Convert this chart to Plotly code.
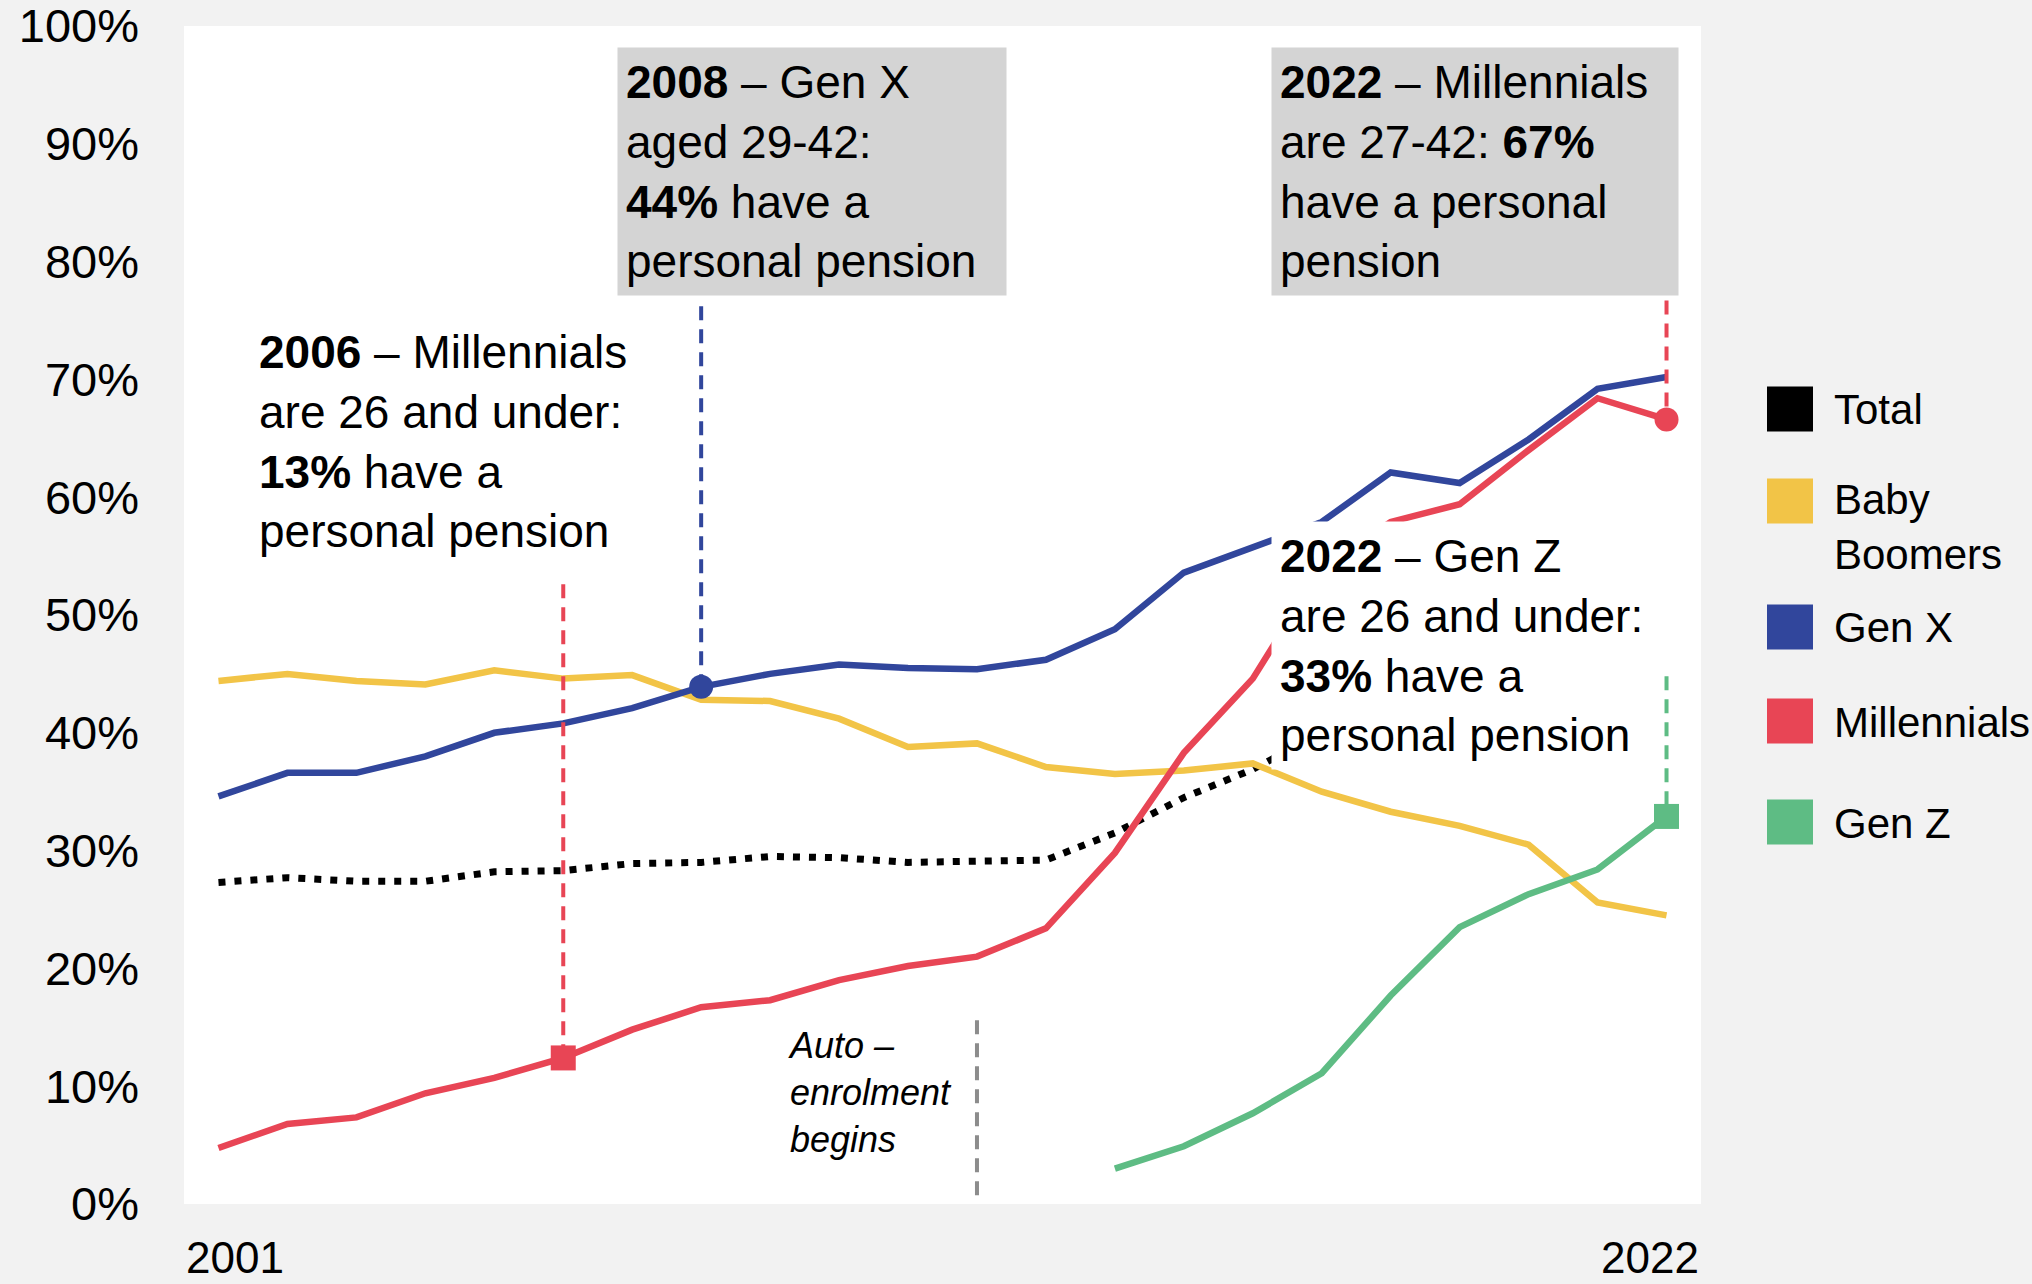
import plotly.graph_objects as go

# Share with a personal pension, by generation (%)
years = list(range(2001, 2023))
total_years = list(range(2001, 2018))
total = [27.3, 27.7, 27.4, 27.4, 28.2, 28.3, 28.9, 29.0, 29.5, 29.4, 29.0, 29.1,
         29.2, 31.5, 34.5, 36.9, 40.0]
baby_boomers = [44.4, 45.0, 44.4, 44.1, 45.3, 44.6, 44.9, 42.8, 42.7, 41.2, 38.8,
                39.1, 37.1, 36.5, 36.8, 37.4, 35.0, 33.3, 32.1, 30.5, 25.6, 24.5]
gen_x = [34.6, 36.6, 36.6, 38.0, 40.0, 40.8, 42.1, 43.9, 45.0, 45.8, 45.5, 45.4,
         46.2, 48.8, 53.6, 55.8, 57.9, 62.1, 61.2, 64.9, 69.2, 70.2]
millennials = [4.75, 6.8, 7.35, 9.4, 10.7, 12.4, 14.8, 16.7, 17.3, 19.0, 20.2, 21.0,
               23.4, 29.8, 38.3, 44.6, 54.0, 57.9, 59.4, 64.0, 68.4, 66.6]
gen_z_years = list(range(2014, 2023))
gen_z = [3.0, 4.9, 7.7, 11.1, 17.7, 23.5, 26.3, 28.4, 32.9]

y_ticks = list(range(0, 101, 10))
legend_names = ['Total', 'Baby<br>Boomers', 'Gen X', 'Millennials', 'Gen Z']

# callout guides: top of each dashed line (%)
callout_tops = {'mill_2006': 52.6, 'genx_2008': 76.2, 'mill_2022': 76.7, 'genz_2022': 44.8}
auto_enrol_year = 2012
auto_enrol_top = 15.6

BLACK = '#000000'
YELLOW = '#F2C447'
BLUE = '#31469C'
RED = '#E84555'
GREEN = '#5EBC84'
GREY = '#8C8C8C'
FONT = 'Liberation Sans, Arial, sans-serif'

# plot area in page pixels
L, R, T, B = 184, 1701, 26, 1204


def px_x(px):
    return (px - L) / (R - L)


def px_y(py):
    return (B - py) / (B - T)


fig = go.Figure()

fig.add_trace(go.Scatter(x=total_years, y=total, mode='lines',
                         line=dict(color=BLACK, width=7, dash='7px,9px')))
fig.add_trace(go.Scatter(x=years, y=baby_boomers, mode='lines',
                         line=dict(color=YELLOW, width=6.5)))
fig.add_trace(go.Scatter(x=years, y=millennials, mode='lines',
                         line=dict(color=RED, width=6.5)))
fig.add_trace(go.Scatter(x=years, y=gen_x, mode='lines',
                         line=dict(color=BLUE, width=6.5)))
fig.add_trace(go.Scatter(x=gen_z_years, y=gen_z, mode='lines',
                         line=dict(color=GREEN, width=6.5)))

# dashed guides down to the highlighted points
i06, i08, i22 = years.index(2006), years.index(2008), years.index(2022)
guides = [
    (2006, callout_tops['mill_2006'], millennials[i06], RED),
    (2008, callout_tops['genx_2008'], gen_x[i08], BLUE),
    (2022, callout_tops['mill_2022'], millennials[i22], RED),
    (2022, callout_tops['genz_2022'], gen_z[-1], GREEN),
    (auto_enrol_year, auto_enrol_top, 0, GREY),
]
for yr, top, bottom, col in guides:
    fig.add_trace(go.Scatter(x=[yr, yr], y=[top, bottom], mode='lines',
                             line=dict(color=col, width=4, dash='14px,9px')))

# highlighted points
fig.add_trace(go.Scatter(x=[2006, 2022], y=[millennials[i06], gen_z[-1]], mode='markers',
                         marker=dict(symbol='square', size=25, color=[RED, GREEN])))
fig.add_trace(go.Scatter(x=[2008, 2022], y=[gen_x[i08], millennials[i22]], mode='markers',
                         marker=dict(symbol='circle', size=24, color=[BLUE, RED])))

txt = dict(family=FONT, size=46, color='#000000')
annotations = [
    dict(x=2001.58, y=74.65, xref='x', yref='y', xanchor='left', yanchor='top',
         align='left', showarrow=False, font=txt, borderpad=0,
         text='<b>2006</b> – Millennials<br>are 26 and under:<br>'
              '<b>13%</b> have a<br>personal pension'),
    dict(x=2006.78, y=98.2, xref='x', yref='y', xanchor='left', yanchor='top',
         align='left', showarrow=False, font=txt, bgcolor='#D4D4D4', borderpad=8,
         width=372,
         text='<b>2008</b> – Gen X<br>aged 29-42:<br><b>44%</b> have a<br>personal pension'),
    dict(x=2016.27, y=98.2, xref='x', yref='y', xanchor='left', yanchor='top',
         align='left', showarrow=False, font=txt, bgcolor='#D4D4D4', borderpad=8,
         width=390,
         text='<b>2022</b> – Millennials<br>are 27-42: <b>67%</b><br>have a personal<br>pension'),
    dict(x=2016.27, y=58.0, xref='x', yref='y', xanchor='left', yanchor='top',
         align='left', showarrow=False, font=txt, bgcolor='#FFFFFF', borderpad=8,
         text='<b>2022</b> – Gen Z<br>are 26 and under:<br><b>33%</b> have a<br>personal pension'),
    dict(x=2009.24, y=9.44, xref='x', yref='y', xanchor='left', yanchor='middle',
         align='left', showarrow=False, borderpad=0,
         font=dict(family=FONT, size=36, color='#000000'),
         text='<i>Auto –<br>enrolment<br>begins</i>'),
    # x axis end labels
    dict(x=0, y=px_y(1257), xref='paper', yref='paper', xanchor='left', yanchor='middle',
         showarrow=False, text=str(years[0]), font=dict(family=FONT, size=44, color='#000000')),
    dict(x=1, y=px_y(1257), xref='paper', yref='paper', xanchor='right', yanchor='middle',
         showarrow=False, text=str(years[-1]), font=dict(family=FONT, size=44, color='#000000')),
]

# hand-drawn legend with large square swatches
legend_colors = [BLACK, YELLOW, BLUE, RED, GREEN]
swatch_centres = [409, 501, 627, 721, 822]
label_centres = [409.6, 527.2, 627, 722, 823.5]
shapes = []
for name, col, sc, lc in zip(legend_names, legend_colors, swatch_centres, label_centres):
    shapes.append(dict(type='rect', xref='paper', yref='paper',
                       x0=px_x(1767), x1=px_x(1813), y0=px_y(sc + 22.5), y1=px_y(sc - 22.5),
                       fillcolor=col, line=dict(width=0)))
    annotations.append(dict(x=px_x(1832), y=px_y(lc), xref='paper', yref='paper',
                            xanchor='left', yanchor='middle', align='left', showarrow=False,
                            text=name, font=dict(family=FONT, size=42, color='#000000')))

fig.update_layout(
    width=2032,
    height=1284,
    margin=dict(l=L, r=2032 - R, t=T, b=1284 - B, pad=0, autoexpand=False),
    paper_bgcolor='#F2F2F2',
    plot_bgcolor='#FFFFFF',
    showlegend=False,
    hovermode=False,
    annotations=annotations,
    shapes=shapes,
    xaxis=dict(range=[2000.5, 2022.5], showgrid=False, zeroline=False, automargin=False,
               showticklabels=False, showline=False, ticks=''),
    yaxis=dict(range=[0, 100], showgrid=False, zeroline=False, showline=False,
               automargin=False,
               tickvals=y_ticks, ticktext=[f'{v}%' for v in y_ticks], ticks='',
               ticklabelstandoff=44, ticklabeloverflow='allow',
               tickfont=dict(family=FONT, size=47, color='#000000')),
)

fig.write_html('out.html', config={'displayModeBar': False},
               post_script="document.body.style.margin='0';"
                           "document.body.style.overflow='hidden';")
